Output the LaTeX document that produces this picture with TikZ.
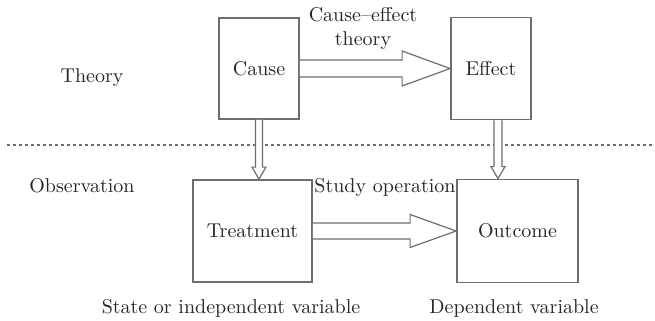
\documentclass[tikz,border=0pt]{standalone}
\usepackage{amsmath,amssymb}
\usepackage{tikz}
\usepackage{xcolor}

\definecolor{linegray}{HTML}{6E6E6E}
\definecolor{textgray}{HTML}{262626}

\begin{document}
\begin{tikzpicture}[x=0.5pt,y=-0.5pt,
	box/.style={draw=linegray,line width=0.9pt,inner sep=0pt,text=textgray},
	label/.style={anchor=base,text=textgray,inner sep=0pt},
	blockarrow/.style={draw=linegray,line width=0.6pt,line join=miter,fill=white}]
		\useasboundingbox (0,0) rectangle (655,321);
		% boxes
		\node[box,minimum width=40pt,minimum height=50.5pt] (cause) at (259,68.5) {Cause};
		\node[box,minimum width=40pt,minimum height=51pt] (effect) at (491,68.5) {Effect};
		\node[box,minimum width=59.5pt,minimum height=51pt] (treatment) at (252.5,231) {Treatment};
		\node[box,minimum width=60.5pt,minimum height=51.5pt] (outcome) at (517.5,231) {Outcome};
		% labels
		\node[label] (theory) at (92,82.5) {Theory};
		\node[label] (observation) at (82,192.5) {Observation};
		\node[label,align=center] (cet) at (363,45.5) {Cause--effect\\theory};
		\node[label] (study) at (385,192.5) {Study operation};
		\node[label] (state) at (231,313.5) {State or independent variable};
		\node[label] (dependent) at (514,313.5) {Dependent variable};
		% separator
		\draw[linegray,line width=0.7pt,dash pattern=on 1.6pt off 1.4pt] (7,145)--(655,145);
		% horizontal arrows
		\draw[blockarrow] ([yshift=4.25pt]cause.east)--([xshift=-24pt,yshift=4.25pt]effect.west)--([xshift=-24pt,yshift=8.75pt]effect.west)--(effect.west)--([xshift=-24pt,yshift=-8.75pt]effect.west)--([xshift=-24pt,yshift=-4.25pt]effect.west)--([yshift=-4.25pt]cause.east);
		\draw[blockarrow] ([yshift=4pt]treatment.east)--([xshift=-23pt,yshift=4pt]outcome.west)--([xshift=-23pt,yshift=8.25pt]outcome.west)--(outcome.west)--([xshift=-23pt,yshift=-8.25pt]outcome.west)--([xshift=-23pt,yshift=-4pt]outcome.west)--([yshift=-4pt]treatment.east);
		% vertical arrows
		\coordinate (ca) at (cause.south);
		\coordinate (cb) at (ca |- treatment.north);
		\coordinate (ea) at ([xshift=3.5pt]effect.south);
		\coordinate (eb) at (ea |- outcome.north);
		\draw[blockarrow] ([xshift=-1.75pt]ca)--([xshift=-1.75pt,yshift=6pt]cb)--([xshift=-3.5pt,yshift=6pt]cb)--(cb)--([xshift=3.5pt,yshift=6pt]cb)--([xshift=1.75pt,yshift=6pt]cb)--([xshift=1.75pt]ca);
		\draw[blockarrow] ([xshift=-2pt]ea)--([xshift=-2pt,yshift=6pt]eb)--([xshift=-3.5pt,yshift=6pt]eb)--(eb)--([xshift=3.5pt,yshift=6pt]eb)--([xshift=2pt,yshift=6pt]eb)--([xshift=2pt]ea);
	\end{tikzpicture}
\end{document}
